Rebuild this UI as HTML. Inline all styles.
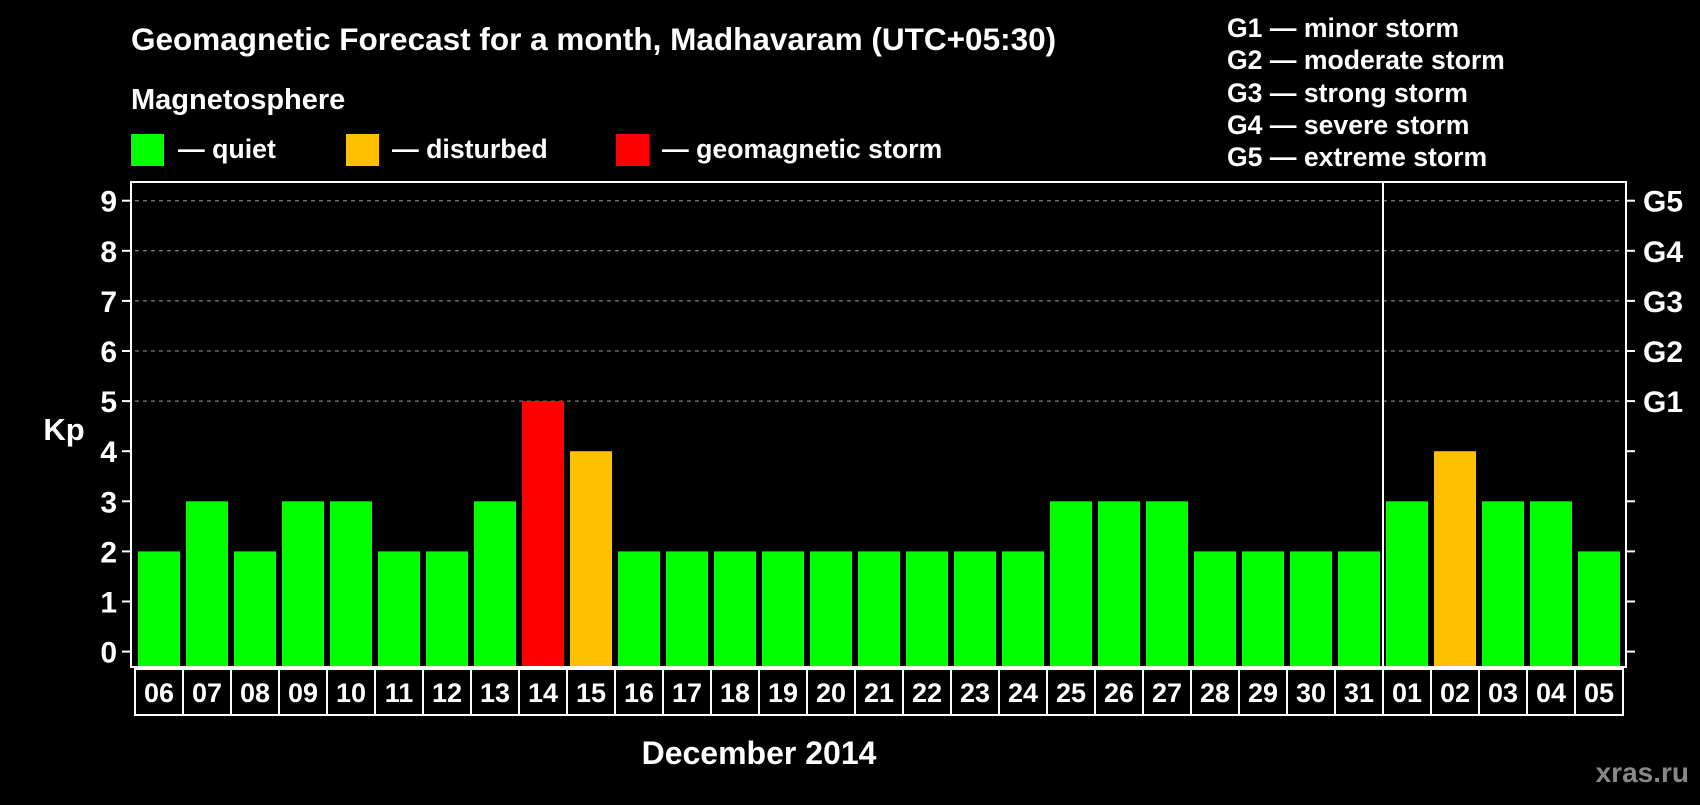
<!DOCTYPE html>
<html><head><meta charset="utf-8"><style>
body{margin:0;background:#000;width:1700px;height:800px;overflow:hidden;font-family:"Liberation Sans",sans-serif;font-weight:bold;color:#fff}
svg text{font-family:"Liberation Sans",sans-serif;font-weight:bold;fill:#fff}
</style></head><body>
<svg id="c" width="1700" height="800">
<text x="131" y="50" font-size="31.5">Geomagnetic Forecast for a month, Madhavaram (UTC+05:30)</text>
<text x="131" y="109" font-size="29">Magnetosphere</text>
<rect x="131" y="134" width="33" height="32" fill="#00ff00"/>
<text x="178" y="158" font-size="26.7">— quiet</text>
<rect x="346" y="134" width="33" height="32" fill="#ffc000"/>
<text x="392" y="158" font-size="26.7">— disturbed</text>
<rect x="616" y="134" width="33" height="32" fill="#ff0000"/>
<text x="662" y="158" font-size="26.7">— geomagnetic storm</text>
<g font-size="26.6">
<text x="1227" y="37">G1 — minor storm</text>
<text x="1227" y="69">G2 — moderate storm</text>
<text x="1227" y="102">G3 — strong storm</text>
<text x="1227" y="134">G4 — severe storm</text>
<text x="1227" y="166">G5 — extreme storm</text>
</g>
<text x="64" y="440" font-size="31" text-anchor="middle">Kp</text>
<text x="759" y="764" font-size="32" text-anchor="middle">December 2014</text>
<text x="1689" y="782" font-size="28" text-anchor="end" style="fill:#888">xras.ru</text>
<g id="g"></g>
</svg>
<script>
const days=["06","07","08","09","10","11","12","13","14","15","16","17","18","19","20","21","22","23","24","25","26","27","28","29","30","31","01","02","03","04","05"];
const kp=[2,3,2,3,3,2,2,3,5,4,2,2,2,2,2,2,2,2,2,3,3,3,2,2,2,2,3,4,3,3,2];
const yTicks=[0,1,2,3,4,5,6,7,8,9];
const gLabels=["G1","G2","G3","G4","G5"];
const L=131,R=1626,T=182,B=667,PITCH=48;
const y=v=>651.6-v*50.1;
const x=i=>135+PITCH*i;
const NS="http://www.w3.org/2000/svg";
const g=document.getElementById('g');
function mk(t,a,txt){const e=document.createElementNS(NS,t);for(const k in a)e.setAttribute(k,a[k]);if(txt!=null)e.textContent=txt;g.appendChild(e);return e;}
yTicks.forEach(v=>{
 if(v>=5){const l=mk('line',{x1:L+4,x2:R-4,y1:y(v),y2:y(v),stroke:'#999','stroke-dasharray':'4,4','stroke-width':1});
 
 }
 mk('line',{x1:L-9,x2:L,y1:y(v),y2:y(v),stroke:'#fff','stroke-width':2});
 mk('line',{x1:R,x2:R+9,y1:y(v),y2:y(v),stroke:'#fff','stroke-width':2});
 const t=mk('text',{x:117,y:y(v)+11,'font-size':30,'text-anchor':'end'},String(v));
 
 
});
gLabels.forEach((s,i)=>{
 const t=mk('text',{x:1643,y:y(5+i)+11,'font-size':30},s);
 
 
});
kp.forEach((v,i)=>{
 const c=v>=5?'#ff0000':v>=4?'#ffc000':'#00ff00';
 const r=mk('rect',{x:x(i)+3,y:y(v),width:42,height:B-1-y(v),fill:c});
 
 
 mk('rect',{x:x(i),y:B+2,width:PITCH,height:46,fill:'none',stroke:'#fff','stroke-width':2});
 const t=mk('text',{x:x(i)+PITCH/2,y:B+35,'font-size':27,'text-anchor':'middle'},days[i]);
 
 
});
const sepI=days.indexOf("01");
const s=mk('line',{x1:x(sepI),x2:x(sepI),y1:T,y2:B,stroke:'#fff','stroke-width':2});


const f=mk('rect',{x:L,y:T,width:R-L,height:B-T,fill:'none',stroke:'#fff','stroke-width':2});


</script>
</body></html>
